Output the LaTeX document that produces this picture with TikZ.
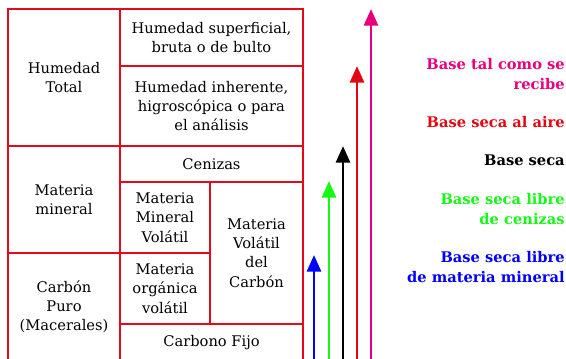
\documentclass[tikz,border=0pt]{standalone}
\usepackage{fontspec}
\setmainfont{DejaVu Serif}
\usepackage{tikz}
\usetikzlibrary{arrows.meta,positioning,calc}
\definecolor{boxred}{RGB}{228,10,30}
\definecolor{basemag}{RGB}{230,0,126}
\definecolor{basered}{RGB}{227,6,19}
\definecolor{basegreen}{RGB}{20,250,20}
\definecolor{baseblue}{RGB}{0,0,255}
\tikzset{
  cell/.style={draw=boxred, line width=1.1pt, align=center, inner sep=0pt, outer sep=0pt,
    font=\fontsize{11}{14.4}\selectfont},
  basearrow/.style={line width=2.2pt, -{Triangle[width=10.5pt,length=12.5pt]}},
  baselabel/.style={anchor=east, align=right, inner sep=0pt, font=\fontsize{11}{15}\selectfont\bfseries}
}

\begin{document}
\begin{tikzpicture}[x=0.75pt, y=-0.75pt]
  \useasboundingbox (0,0) rectangle (566,358);
  \clip (0,0) rectangle (566,358);
  % left column
  \node[cell, minimum width=84pt, minimum height=102.75pt] (ht) at (64,77.5) {Humedad\\Total};
  \node[cell, minimum width=84pt, minimum height=80.25pt] (mm) at (64,199.5) {Materia\\mineral};
  \node[cell, minimum width=84pt, minimum height=81pt] (cp) at (64,307) {Carbón\\Puro\\(Macerales)};
  % right columns
  \node[cell, minimum width=137.25pt, minimum height=42.75pt] (hs) at (211.5,37.5) {Humedad superficial,\\bruta o de bulto};
  \node[cell, minimum width=137.25pt, minimum height=60pt] (hi) at (211.5,106) {Humedad inherente,\\higroscópica o para\\el análisis};
  \node[cell, minimum width=137.25pt, minimum height=27pt] (cen) at (211.5,164) {Cenizas};
  \node[cell, minimum width=67.5pt, minimum height=53.25pt] (mmv) at (165,217.5) {Materia\\Mineral\\Volátil};
  \node[cell, minimum width=67.5pt, minimum height=53.25pt] (mov) at (165,288.5) {Materia\\orgánica\\volátil};
  \node[cell, minimum width=69.75pt, minimum height=106.5pt] (mvc) at (256.5,253) {Materia\\Volátil\\del\\Carbón};
  \node[cell, minimum width=137.25pt, minimum height=27.75pt] (cf) at (211.5,342.5) {Carbono Fijo};

  % arrows
  \coordinate (b1) at (314,362); \coordinate (t1) at (314,255);
  \coordinate (b2) at (329,362); \coordinate (t2) at (329,181);
  \coordinate (b3) at (343,362); \coordinate (t3) at (343,146);
  \coordinate (b4) at (357,362); \coordinate (t4) at (357,66);
  \coordinate (b5) at (371,362); \coordinate (t5) at (371,9);
  \draw[basearrow, baseblue] (b1) -- (t1);
  \draw[basearrow, basegreen] (b2) -- (t2);
  \draw[basearrow, black] (b3) -- (t3);
  \draw[basearrow, basered] (b4) -- (t4);
  \draw[basearrow, basemag] (b5) -- (t5);

  % labels
  \node[baselabel, basemag] (lrec) at (565,74) {Base tal como se\\recibe};
  \node[baselabel, basered] (laire) at (565,122) {Base seca al aire};
  \node[baselabel, black] (lseca) at (565,160) {Base seca};
  \node[baselabel, basegreen] (lcen) at (565,209) {Base seca libre\\de cenizas};
  \node[baselabel, baseblue] (lmin) at (565,267) {Base seca libre\\de materia mineral};
\end{tikzpicture}
\end{document}
